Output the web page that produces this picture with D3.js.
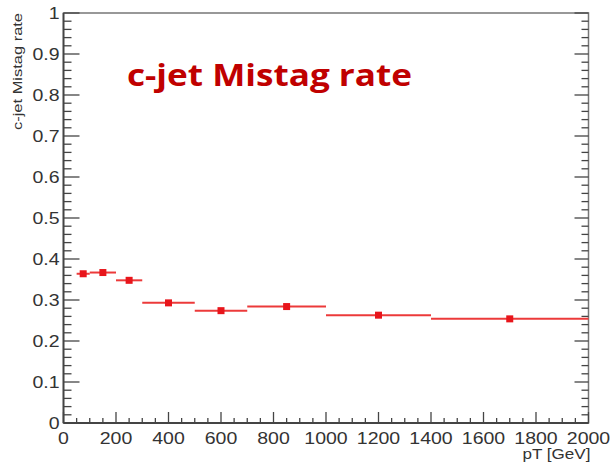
<!DOCTYPE html>
<html><head><meta charset="utf-8">
<script src="https://cdn.jsdelivr.net/npm/d3@7"></script>
<style>body{margin:0;background:#fff}</style>
</head><body>
<script>
const binLow  = [50, 100, 200, 300, 500, 700, 1000, 1400];
const binHigh = [100, 200, 300, 500, 700, 1000, 1400, 2000];
const binCenter = [75, 150, 250, 400, 600, 850, 1200, 1700];
const rate = [0.364, 0.367, 0.348, 0.293, 0.274, 0.284, 0.263, 0.254];
const xTicks = [0, 200, 400, 600, 800, 1000, 1200, 1400, 1600, 1800, 2000];
const yTicks = [0, 0.1, 0.2, 0.3, 0.4, 0.5, 0.6, 0.7, 0.8, 0.9, 1];

const W = 611, H = 467;
const L = 63.5, R = 588.5, T = 13, B = 423;
const svg = d3.select("body").append("svg").attr("width", W).attr("height", H);
const x = d3.scaleLinear().domain([0, 2000]).range([L, R]);
const y = d3.scaleLinear().domain([0, 1]).range([B, T]);
const axCol = "#444", txtCol = "#333";
const font = "'Liberation Sans', Arial, sans-serif";
const SX = 1.22; // horizontal stretch of the reference picture

// frame
svg.append("rect").attr("x", L).attr("y", T).attr("width", R - L).attr("height", B - T)
  .attr("fill", "none").attr("stroke", "#777").attr("stroke-width", 1.5);

// y ticks (inside) left and right
const yMinor = d3.range(0, 1.0001, 0.02);
yMinor.forEach(v => {
  const major = Math.abs(v * 10 - Math.round(v * 10)) < 1e-6;
  const len = major ? 16 : 8;
  svg.append("line").attr("x1", L).attr("x2", L + len).attr("y1", y(v)).attr("y2", y(v))
    .attr("stroke", axCol).attr("stroke-width", 1.3);
  svg.append("line").attr("x1", R).attr("x2", R - (major ? 14 : 7)).attr("y1", y(v)).attr("y2", y(v))
    .attr("stroke", axCol).attr("stroke-width", 1.3);
});
// x ticks (inside, bottom)
const xMinor = d3.range(0, 2000.1, 50);
xMinor.forEach(v => {
  const major = v % 200 === 0;
  const len = major ? 11 : 5;
  svg.append("line").attr("x1", x(v)).attr("x2", x(v)).attr("y1", B).attr("y2", B - len)
    .attr("stroke", axCol).attr("stroke-width", 1.3);
});
svg.append("line").attr("x1", L).attr("x2", L).attr("y1", T).attr("y2", B).attr("stroke", axCol).attr("stroke-width", 1.8);
svg.append("line").attr("x1", L).attr("x2", R).attr("y1", B).attr("y2", B).attr("stroke", axCol).attr("stroke-width", 1.8);

// tick labels (stretched horizontally like the reference)
svg.selectAll(".yl").data(yTicks).enter().append("g")
  .attr("transform", d => `translate(${L - 4},${y(d) + 6}) scale(${SX},1)`)
  .append("text").attr("text-anchor", "end").attr("font-family", font).attr("font-size", 16)
  .attr("fill", txtCol).text(d => d3.format("~g")(d));
svg.selectAll(".xl").data(xTicks).enter().append("g")
  .attr("transform", d => `translate(${x(d)},${B + 21}) scale(${SX},1)`)
  .append("text").attr("text-anchor", "middle").attr("font-family", font).attr("font-size", 16)
  .attr("fill", txtCol).text(d => d);

// axis titles
svg.append("g").attr("transform", `translate(21.5,${T}) rotate(-90)`)
  .append("text").attr("text-anchor", "end").attr("font-family", font).attr("font-size", 13.5)
  .attr("textLength", 117).attr("lengthAdjust", "spacingAndGlyphs")
  .attr("fill", txtCol).text("c-jet Mistag rate");
svg.append("g").attr("transform", `translate(${R + 2},${B + 36}) scale(${SX},1)`)
  .append("text").attr("text-anchor", "end")
  .attr("font-family", font).attr("font-size", 14).attr("fill", txtCol).text("pT [GeV]");

// data
const red = "#e8151b";
const data = rate.map((r, i) => ({lo: binLow[i], hi: binHigh[i], c: binCenter[i], v: r}));
svg.selectAll(".eb").data(data).enter().append("line")
  .attr("x1", d => x(d.lo)).attr("x2", d => x(d.hi))
  .attr("y1", d => y(d.v)).attr("y2", d => y(d.v))
  .attr("stroke", "#ec3a3a").attr("stroke-width", 2);
svg.selectAll(".pt").data(data).enter().append("rect")
  .attr("x", d => x(d.c) - 3.5).attr("y", d => y(d.v) - 3.5)
  .attr("width", 7).attr("height", 7).attr("fill", red);

// title
svg.append("text").attr("x", 127).attr("y", 86)
  .attr("font-family", "'Open Sans', Lato, sans-serif").attr("font-weight", "bold")
  .attr("font-size", 31).attr("textLength", 285).attr("lengthAdjust", "spacingAndGlyphs")
  .attr("fill", "#c00000").text("c-jet Mistag rate");
</script>
</body></html>
